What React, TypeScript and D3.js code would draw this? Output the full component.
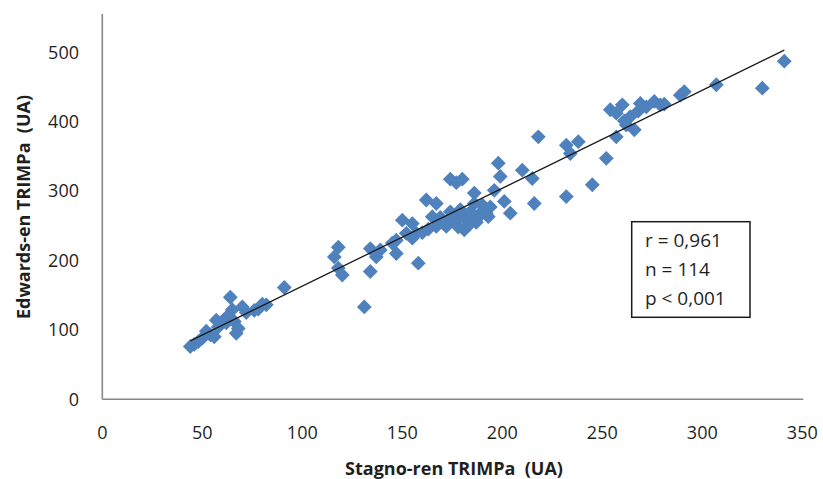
import React from "react";
import * as d3 from "d3";

// Stagno-ren TRIMPa (x) vs Edwards-en TRIMPa (y)
const stagno: number[] = [
  44, 46, 48, 50, 52, 54, 56, 57, 59, 62, 64, 65, 66, 67, 68, 70, 72, 76, 78, 80, 82, 91, 58, 62,
  116, 118, 118, 120, 131, 134, 134, 137, 139, 147, 147, 150, 152, 155, 157, 158, 162, 165,
  167, 167, 170, 172, 174, 175, 177, 177, 179, 180, 181, 181, 183, 185, 186, 187, 189, 190,
  193, 194, 196, 198, 199, 201, 204, 210, 215, 216, 218,
  145, 155, 160, 163, 169, 170, 174, 176, 178, 182, 184, 186, 188, 192,
  232, 232, 234, 238, 245, 252, 254, 257, 257, 260, 261, 264, 266, 269, 272, 276, 279, 289, 291,
  262, 268, 281,
  307, 330, 341,
];
const edwards: number[] = [
  76, 79, 83, 88, 98, 93, 90, 114, 108, 118, 147, 129, 112, 95, 102, 133, 125, 128, 130, 137, 136, 161, 104, 110,
  205, 219, 189, 179, 133, 184, 217, 205, 215, 210, 229, 258, 239, 253, 239, 196, 287, 263,
  282, 249, 258, 249, 317, 260, 312, 258, 273, 317, 244, 266, 250, 263, 297, 255, 268, 280,
  263, 277, 301, 340, 321, 285, 268, 330, 318, 282, 378,
  225, 232, 240, 245, 262, 255, 270, 262, 248, 258, 270, 282, 262, 268,
  366, 292, 354, 371, 309, 347, 417, 412, 378, 424, 401, 407, 388, 426, 421, 429, 424, 438, 443,
  395, 415, 425,
  453, 448, 487,
];

const xTicks: number[] = [0, 50, 100, 150, 200, 250, 300, 350];
const yTicks: number[] = [0, 100, 200, 300, 400, 500];

// Trend line (y = slope * x + intercept)
const trendSlope = 1.41;
const trendIntercept = 22;

const statLines: string[] = ["r = 0,961", "n = 114", "p < 0,001"];

const xTitle = "Stagno-ren TRIMPa\u00a0 (UA)";
const yTitle = "Edwards-en TRIMPa\u00a0 (UA)";

const W = 823;
const H = 479;
const FONT = "'Open Sans', 'Liberation Sans', sans-serif";

export default function App() {
  const x = d3.scaleLinear().domain([0, 350]).range([102.3, 802.3]);
  const y = d3.scaleLinear().domain([0, 500]).range([399.3, 52.1]);

  const points = stagno.map((v, i) => ({ x: v, y: edwards[i] }));
  const xExt = d3.extent(stagno) as [number, number];

  const diamond = d3.symbol().type(d3.symbolDiamond2).size(140)();

  const line = d3
    .line<number>()
    .x((d) => x(d))
    .y((d) => y(trendSlope * d + trendIntercept));

  const axisColor = "#878787";
  const textColor = "#1f1f1f";

  return (
    <svg
      width={W}
      height={H}
      style={{ position: "absolute", left: 0, top: 0, display: "block", background: "#fff" }}
      fontFamily={FONT}
    >
      {/* axes */}
      <line x1={x(0)} y1={14} x2={x(0)} y2={y(0)} stroke={axisColor} strokeWidth={1.6} />
      <line x1={x(0)} y1={y(0)} x2={x(350) + 1} y2={y(0)} stroke={axisColor} strokeWidth={1.6} />

      {/* y tick labels */}
      {yTicks.map((t) => (
        <text
          key={"y" + t}
          x={79}
          y={y(t)}
          dy="0.36em"
          textAnchor="end"
          fontSize={18}
          fill={textColor}
        >
          {t}
        </text>
      ))}

      {/* x tick labels */}
      {xTicks.map((t) => (
        <text key={"x" + t} x={x(t)} y={439} textAnchor="middle" fontSize={18} fill={textColor}>
          {t}
        </text>
      ))}

      {/* points */}
      {points.map((p, i) => (
        <path
          key={i}
          d={diamond as string}
          transform={`translate(${x(p.x)},${y(p.y)})`}
          fill="#4F81BD"
        />
      ))}

      {/* trend line */}
      <path d={line(xExt) as string} stroke="#1a1a1a" strokeWidth={1.3} fill="none" />

      {/* stats box */}
      <rect x={631.7} y={221.7} width={118.3} height={95.6} fill="#fff" stroke="#1a1a1a" strokeWidth={1.5} />
      {statLines.map((s, i) => (
        <text key={s} x={645} y={246.5 + i * 29} fontSize={19} fill={textColor}>
          {s}
        </text>
      ))}

      {/* axis titles */}
      <text x={454} y={475} textAnchor="middle" fontSize={18} fontWeight={700} fill={textColor}>
        {xTitle}
      </text>
      <text
        transform={`translate(30,207) rotate(-90)`}
        textAnchor="middle"
        fontSize={18}
        fontWeight={700}
        fill={textColor}
      >
        {yTitle}
      </text>
    </svg>
  );
}
